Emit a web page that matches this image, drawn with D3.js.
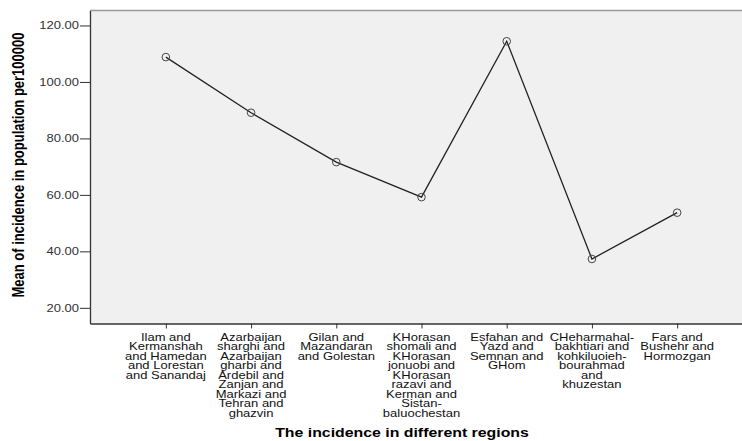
<!DOCTYPE html>
<html><head><meta charset="utf-8">
<script src="https://cdn.jsdelivr.net/npm/d3@7"></script>
<style>body{margin:0;background:#fff}svg{display:block}</style>
</head><body>
<svg id="c" width="742" height="441"></svg>
<script>
const categoryLines = [
  ["Ilam and","Kermanshah","and Hamedan","and Lorestan","and Sanandaj"],
  ["Azarbaijan","sharghi and","Azarbaijan","gharbi and","Ardebil and","Zanjan and","Markazi and","Tehran and","ghazvin"],
  ["Gilan and","Mazandaran","and Golestan"],
  ["KHorasan","shomali and","KHorasan","jonuobi and","KHorasan","razavi and","Kerman and","Sistan-","baluochestan"],
  ["Esfahan and","Yazd and","Semnan and","GHom"],
  ["CHeharmahal-","bakhtiari and","kohkiluoieh-","bourahmad","and","khuzestan"],
  ["Fars and","Bushehr and","Hormozgan"]
];
const categories = categoryLines.map(l => l.join(" "));
const values = [108.8, 89.1, 71.6, 59.2, 114.4, 37.3, 53.7];
const yTicks = [20, 40, 60, 80, 100, 120];
const yTitle = "Mean of incidence in population per100000";
const xTitle = "The incidence in different regions";

const svg = d3.select("#c");
const L = 90, T = 10.5, B = 323.5, R = 753;
const SX = 1.25;

const x = d3.scalePoint().domain(categories).range([L, R]).padding(0.89);
const y = d3.scaleLinear().domain([14.45, 125.3]).range([B, T]);

// plot background
svg.append("rect").attr("x", L).attr("y", T).attr("width", 742 - L).attr("height", B - T)
  .attr("fill", "#f0f0f0");
svg.append("line").attr("x1", L).attr("x2", 742).attr("y1", T).attr("y2", T)
  .attr("stroke", "#999").attr("stroke-width", 1.5);

// y axis
const ya = svg.append("g").attr("transform", `translate(${L},0)`)
  .call(d3.axisLeft(y).tickValues(yTicks).tickSize(10).tickSizeOuter(0).tickFormat(d3.format(".2f")));
ya.select(".domain").attr("stroke", "#333").attr("stroke-width", 1.3);
ya.selectAll(".tick line").attr("stroke", "#333");
ya.selectAll(".tick text")
  .attr("x", -11 / SX).attr("transform", `scale(${SX},1)`)
  .attr("font-family", "Liberation Sans, Arial, sans-serif").attr("font-size", 10.4).attr("fill", "#333");

// x axis
const xa = svg.append("g").attr("transform", `translate(0,${B})`)
  .call(d3.axisBottom(x).tickSize(5).tickSizeOuter(0).tickFormat(""));
xa.select(".domain").attr("stroke", "#333").attr("stroke-width", 1.3);
xa.selectAll(".tick line").attr("stroke", "#333");

// category labels (one text per category, lines as tspans)
categories.forEach((c, i) => {
  const t = svg.append("text")
    .attr("transform", `translate(${x(c)},340.7) scale(${SX},1)`)
    .attr("text-anchor", "middle")
    .attr("font-family", "Liberation Sans, Arial, sans-serif").attr("font-size", 10.4).attr("fill", "#111");
  t.selectAll("tspan").data(categoryLines[i]).join("tspan")
    .attr("x", 0).attr("dy", (d, j) => j === 0 ? 0 : 9.5)
    .text(d => d);
});

// line
const line = d3.line().x((d, i) => x(categories[i])).y(d => y(d));
svg.append("path").datum(values).attr("d", line)
  .attr("fill", "none").attr("stroke", "#222").attr("stroke-width", 1.3);
svg.selectAll("circle.m").data(values).join("circle").attr("class", "m")
  .attr("cx", (d, i) => x(categories[i])).attr("cy", d => y(d)).attr("r", 3.8)
  .attr("fill", "none").attr("stroke", "#444").attr("stroke-width", 1);

// axis titles
svg.append("text").attr("transform", `translate(24,165) rotate(-90) scale(1.0,1.25)`)
  .attr("text-anchor", "middle").attr("font-family", "Liberation Sans, Arial, sans-serif")
  .attr("font-weight", "bold").attr("font-size", 13).attr("fill", "#000").text(yTitle);
svg.append("text").attr("transform", `translate(402,437) scale(1.27,1)`)
  .attr("text-anchor", "middle").attr("font-family", "Liberation Sans, Arial, sans-serif")
  .attr("font-weight", "bold").attr("font-size", 12.5).attr("fill", "#000").text(xTitle);
</script>
</body></html>
